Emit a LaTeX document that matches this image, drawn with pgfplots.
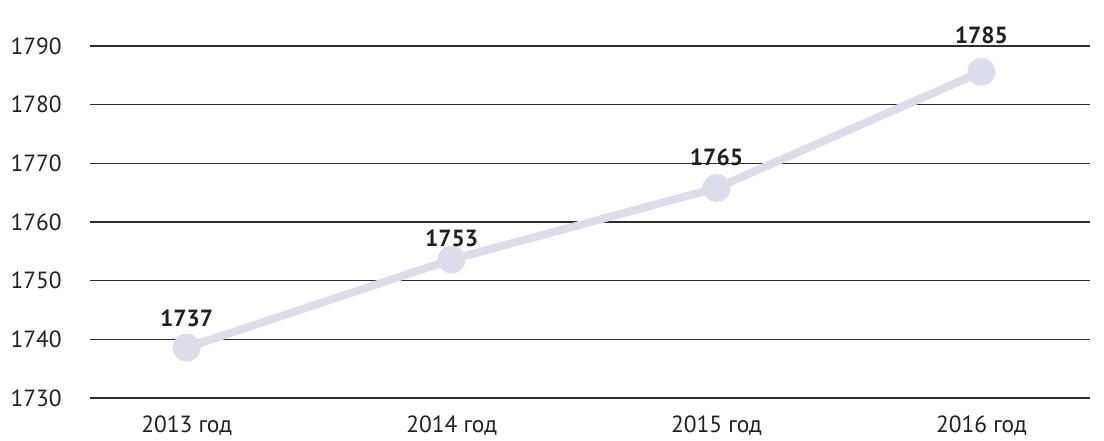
\documentclass[border=0pt]{standalone}
\usepackage{pgfplots}
\pgfplotsset{compat=1.18}
\usepackage{fontspec}
\setmainfont{PT Sans}
\definecolor{lineclr}{RGB}{221,220,234}
\definecolor{gridclr}{RGB}{45,45,45}
\definecolor{txtclr}{RGB}{35,31,32}
\begin{document}
\begin{tikzpicture}[x=1bp,y=1bp]
  \useasboundingbox (-90,-43) rectangle (1014,398);
  \begin{axis}[
    at={(0,0)}, anchor=south west,
    scale only axis,
    width=1000bp, height=352bp,
    xmin=-0.365, xmax=3.41,
    ymin=1730, ymax=1790,
    ytick={1730,1740,...,1790},
    xtick={0,1,2,3},
    xticklabels={2013 год,2014 год,2015 год,2016 год},
    axis line style={draw=none},
    major tick length=0pt,
    ymajorgrids,
    grid style={gridclr, line width=1.2bp},
    ticklabel style={font=\fontsize{23.5}{26}\selectfont, text=txtclr},
    /pgf/number format/assume math mode=true,
    /pgf/number format/1000 sep={},
    yticklabel style={anchor=west, xshift=-83bp},
    xticklabel style={yshift=-14bp},
    clip=false,
  ]
  % line with markers
  \addplot[lineclr, line width=8bp, mark=*, mark size=10bp,
    mark options={fill=lineclr, draw=none}]
    coordinates {(0,1738.6) (1,1753.6) (2,1765.8) (3,1785.6)};
  % value labels
  \addplot[draw=none, mark=none,
    nodes near coords, point meta=explicit symbolic,
    every node near coord/.style={anchor=center,
      font=\fontsize{23.5}{26}\selectfont\bfseries, text=txtclr}]
    coordinates {(0,1743.6) [1737] (1,1757.3) [1753] (2,1771.0) [1765] (3,1791.9) [1785]};
  \end{axis}
\end{tikzpicture}
\end{document}
